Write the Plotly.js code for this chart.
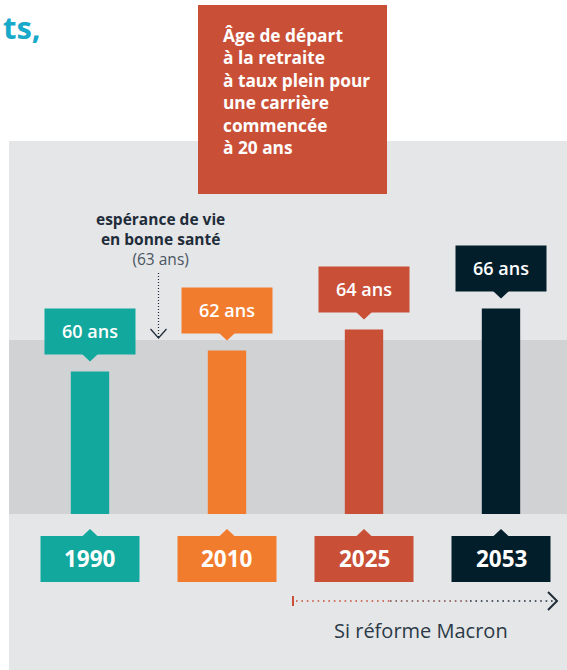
<!DOCTYPE html>
<html>
<head>
<meta charset="utf-8">
<script src="https://cdn.plot.ly/plotly-3.0.1.min.js"></script>
<style>html,body{margin:0;padding:0;background:#fff;}#chart{width:567px;height:670px;}</style>
</head>
<body>
<div id="chart"></div>
<script>
// ---- data ----
const years = ['1990', '2010', '2025', '2053'];
const ages = [60, 62, 64, 66];
const ageLabels = ['60 ans', '62 ans', '64 ans', '66 ans'];
const healthyLife = 63;
const healthyLabel = ['espérance de vie', 'en bonne santé', '(63 ans)'];
const titleLines = ['Âge de départ', 'à la retraite', 'à taux plein pour', 'une carrière', 'commencée', 'à 20 ans'];
const reformLabel = 'Si réforme Macron';
const headText = 'ts,';

// ---- styles ----
const barColors = ['#13a89e', '#f27c2e', '#c94f37', '#021e2b'];
const BAR_BASE = 46.43;
const FONT = '"Open Sans", "Noto Sans", sans-serif';
const xIdx = years.map((_, i) => i);

const traces = [{
  type: 'bar',
  x: xIdx,
  y: ages.map(a => a - BAR_BASE),
  base: BAR_BASE,
  width: 0.28,
  marker: {color: barColors, line: {width: 0}},
  hoverinfo: 'skip'
}];

const shapes = [
  // light panel
  {type: 'rect', xref: 'paper', yref: 'paper', x0: 9/567, x1: 1, y0: 0, y1: 1 - 141/670,
   fillcolor: '#e5e6e8', line: {width: 0}, layer: 'below'},
  // healthy-life band
  {type: 'rect', xref: 'paper', yref: 'y', x0: 9/567, x1: 1, y0: BAR_BASE, y1: healthyLife,
   fillcolor: '#d1d2d4', line: {width: 0}, layer: 'below'},
  // title box
  {type: 'rect', xref: 'paper', yref: 'paper', x0: 198/567, x1: 387/567, y0: 1 - 194/670, y1: 1 - 5/670,
   fillcolor: '#c94f37', line: {width: 0}, layer: 'above'},
  // healthy-life dotted arrow
  {type: 'line', xref: 'x', yref: 'y', x0: 0.5, x1: 0.5, ysizemode: 'pixel', yanchor: healthyLife,
   y0: 3, y1: 68, line: {color: '#1f2d3a', width: 1.2, dash: '1px,2px'}},
  {type: 'path', xref: 'x', yref: 'y', xsizemode: 'pixel', ysizemode: 'pixel', xanchor: 0.5, yanchor: healthyLife,
   path: 'M-8,11 L0,2 L8,11', line: {color: '#1f2d3a', width: 1.3}},
  // reform arrow
  {type: 'line', xref: 'paper', yref: 'paper', x0: 296/567, x1: 390/567, y0: 1 - 601/670, y1: 1 - 601/670,
   line: {color: '#c94f37', width: 1.6, dash: '1.6px,3.8px'}},
  {type: 'line', xref: 'paper', yref: 'paper', x0: 390/567, x1: 470/567, y0: 1 - 601/670, y1: 1 - 601/670,
   line: {color: '#7a4a45', width: 1.6, dash: '1.6px,3.8px'}},
  {type: 'line', xref: 'paper', yref: 'paper', x0: 470/567, x1: 554/567, y0: 1 - 601/670, y1: 1 - 601/670,
   line: {color: '#1f2d3a', width: 1.6, dash: '1.6px,3.8px'}},
  {type: 'line', xref: 'paper', yref: 'paper', x0: 293/567, x1: 293/567, y0: 1 - 596/670, y1: 1 - 606/670,
   line: {color: '#c94f37', width: 2}},
  {type: 'path', xref: 'paper', yref: 'paper', xsizemode: 'pixel', ysizemode: 'pixel', xanchor: 557/567, yanchor: 1 - 601/670,
   path: 'M-9,9 L0,0 L-9,-9', line: {color: '#1f2d3a', width: 2}}
];

const annotations = [];

xIdx.forEach(i => {
  const c = barColors[i];
  // value label box + pointer
  shapes.push({type: 'rect', xref: 'x', yref: 'y', xsizemode: 'pixel', ysizemode: 'pixel',
    xanchor: i, yanchor: ages[i], x0: -45.5, x1: 45.5, y0: 17, y1: 63,
    fillcolor: c, line: {width: 0}, layer: 'above'});
  shapes.push({type: 'path', xref: 'x', yref: 'y', xsizemode: 'pixel', ysizemode: 'pixel',
    xanchor: i, yanchor: ages[i], path: 'M-8,17.5 L8,17.5 L0,10 Z',
    fillcolor: c, line: {width: 0}, layer: 'above'});
  annotations.push({xref: 'x', yref: 'y', x: i, y: ages[i], yshift: 40, showarrow: false,
    text: ageLabels[i], font: {family: FONT, size: 18, color: '#ffffff', weight: 600}});
  // year box + pointer
  shapes.push({type: 'rect', xref: 'x', yref: 'y', xsizemode: 'pixel', ysizemode: 'pixel',
    xanchor: i, yanchor: BAR_BASE, x0: -49.5, x1: 49.5, y0: -22, y1: -68,
    fillcolor: c, line: {width: 0}, layer: 'above'});
  shapes.push({type: 'path', xref: 'x', yref: 'y', xsizemode: 'pixel', ysizemode: 'pixel',
    xanchor: i, yanchor: BAR_BASE, path: 'M-8,-22.5 L8,-22.5 L0,-15 Z',
    fillcolor: c, line: {width: 0}, layer: 'above'});
  annotations.push({xref: 'x', yref: 'y', x: i, y: BAR_BASE, yshift: -45, showarrow: false,
    text: '<b>' + years[i] + '</b>', font: {family: FONT, size: 22.5, color: '#ffffff'}});
});

// healthy life label
annotations.push({xref: 'x', yref: 'y', x: 0.5, y: healthyLife, xshift: 2, yshift: 101, showarrow: false,
  text: '<b>' + healthyLabel[0] + '<br>' + healthyLabel[1] + '</b><br><span style="color:#4a5560">' + healthyLabel[2] + '</span>',
  font: {family: FONT, size: 15.5, color: '#1f2d3a'}, align: 'center'});

// title box text
annotations.push({xref: 'paper', yref: 'paper', x: 221/567, y: 1 - 92/670, xanchor: 'left', yanchor: 'middle',
  showarrow: false, align: 'left', text: '<b>' + titleLines.join('<br>') + '</b>',
  font: {family: FONT, size: 17.3, color: '#ffffff'}});

// reform label
annotations.push({xref: 'paper', yref: 'paper', x: 421/567, y: 1 - 630/670, xanchor: 'center', yanchor: 'middle',
  showarrow: false, text: reformLabel, font: {family: FONT, size: 20, color: '#2b3a46'}});

// heading fragment (cropped in the source)
annotations.push({xref: 'paper', yref: 'paper', x: 1/567, y: 1 - 27/670, xanchor: 'left', yanchor: 'middle',
  showarrow: false, text: '<b>' + headText + '</b>', font: {family: FONT, size: 31, color: '#17a9c9'}});

const layout = {
  width: 567, height: 670,
  margin: {l: 0, r: 0, t: 0, b: 0},
  paper_bgcolor: '#ffffff', plot_bgcolor: 'rgba(0,0,0,0)',
  showlegend: false,
  xaxis: {range: [-90/137, 477/137], visible: false, fixedrange: true},
  yaxis: {range: [31.57, 95.38], visible: false, fixedrange: true},
  shapes: shapes,
  annotations: annotations
};

Plotly.newPlot('chart', traces, layout, {displayModeBar: false, staticPlot: true});
</script>
</body>
</html>
